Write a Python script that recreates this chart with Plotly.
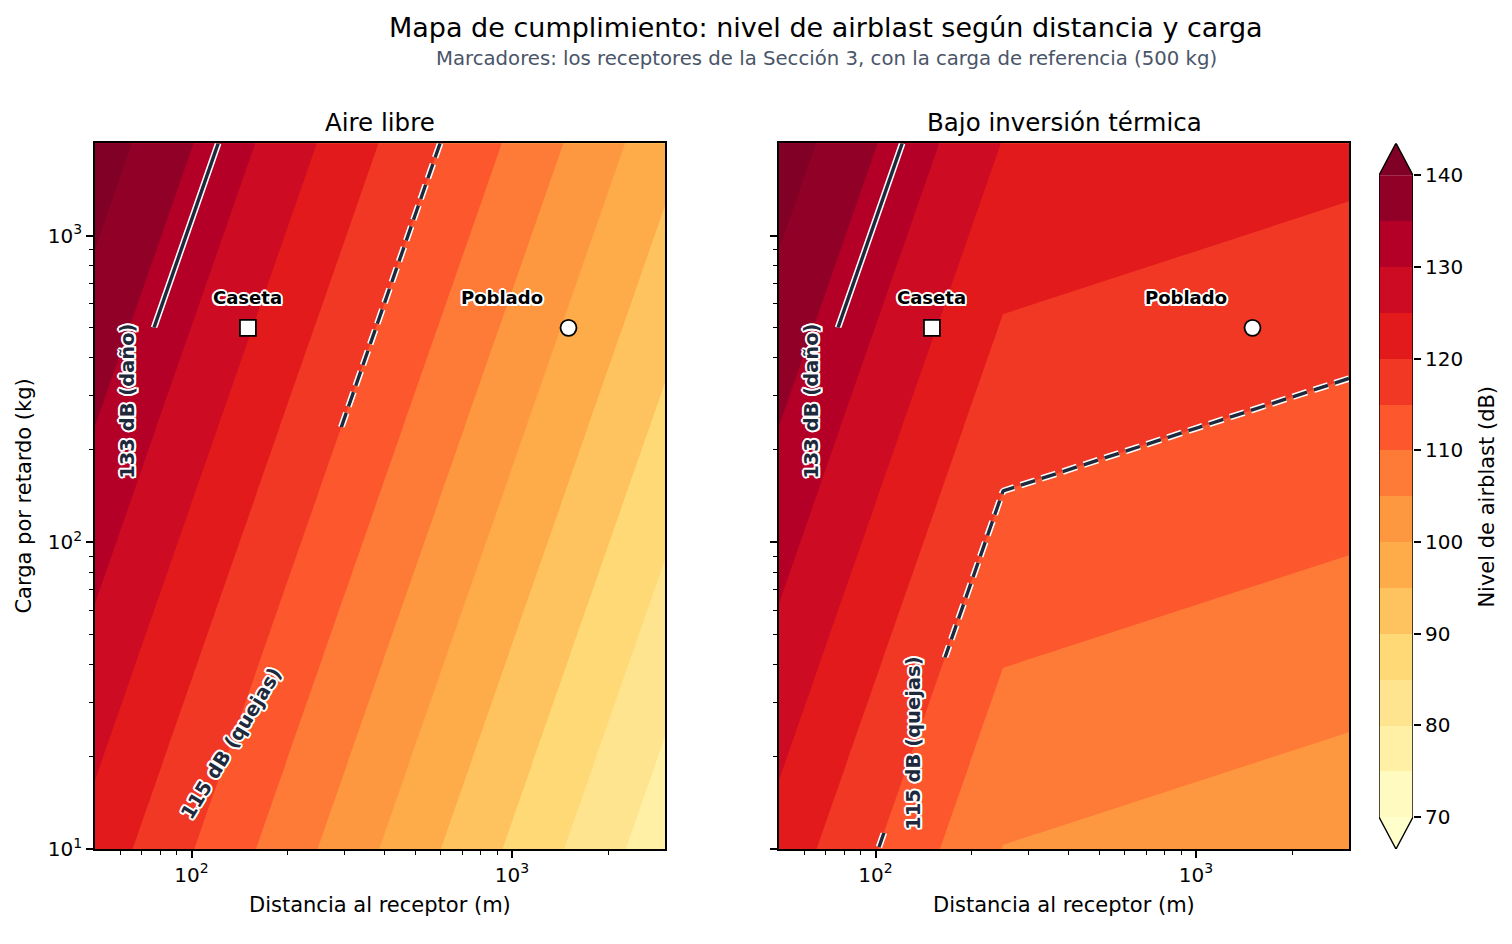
import numpy as np
import plotly.graph_objects as go

# ------------------------------------------------------------------ data
# grid (distance columns, charge rows), level in dB
distances_m = [50, 250, 3000]
charges_kg = [10, 11.3, 42, 237, 500, 2000]
level_free_db = [
    [123.05, 104.88, 76.82],
    [123.51, 105.34, 77.28],
    [128.46, 110.28, 82.22],
    [134.97, 116.80, 88.74],
    [137.78, 119.61, 91.55],
    [143.00, 124.82, 96.76],
]
level_inversion_db = [
    [123.05, 104.88, 101.70],
    [123.51, 105.34, 102.16],
    [128.46, 110.28, 107.10],
    [134.97, 116.80, 113.62],
    [137.78, 119.61, 116.43],
    [143.00, 124.82, 121.64],
]
receptor_names = ["Caseta", "Poblado"]
receptor_dist_m = [150, 1500]
receptor_charge_kg = [500, 500]
receptor_symbols = ["square", "circle"]

level_start, level_end, level_step = 70, 140, 5
colorbar_ticks = [70, 80, 90, 100, 110, 120, 130, 140]
# below-70, 14 bands 70..140, above-140 (YlOrRd)
band_colors = ["#ffffcc", "#fffabf", "#fff0a6", "#fee48e", "#fed976", "#fec35e",
               "#feab4a", "#fd9841", "#fd7b37", "#fc572d", "#f13824", "#e31a1c",
               "#cd0b22", "#b40026", "#910026", "#800026"]

threshold_damage = 133
threshold_complaint = 115
label_damage = "133 dB (daño)"
label_complaint = "115 dB (quejas)"

panel_titles = ["Aire libre", "Bajo inversión térmica"]
x_title = "Distancia al receptor (m)"
y_title = "Carga por retardo (kg)"
cbar_title = "Nivel de airblast (dB)"
main_title = "Mapa de cumplimiento: nivel de airblast según distancia y carga"
sub_title = "Marcadores: los receptores de la Sección 3, con la carga de referencia (500 kg)"

# ------------------------------------------------------------------ style
W, H = 1512, 944
FONT = "DejaVu Sans"
DARK = "#1e293b"
def px(x):
    return x / W
def py(y):
    return 1 - y / H

lx = np.log10(distances_m)
ly = np.log10(charges_kg)
z_free = np.array(level_free_db)
z_inv = np.array(level_inversion_db)

n_col = len(band_colors)
colorscale = [[k / (n_col - 1), c] for k, c in enumerate(band_colors)]

# visible row spans of each threshold line (gaps left for inline labels)
line_rows = {
    ("x", "y"): {threshold_damage: [(4, 6)], threshold_complaint: [(3, 6)]},
    ("x2", "y2"): {threshold_damage: [(4, 6)], threshold_complaint: [(0, 2), (2, 6)]},
}
OUTLINE = ("white 2px 0px 0px, white -2px 0px 0px, white 0px 2px 0px, white 0px -2px 0px, "
           "white 1.5px 1.5px 0px, white -1.5px -1.5px 0px, white 1.5px -1.5px 0px, white -1.5px 1.5px 0px")

fig = go.Figure()

panels = [("x", "y", z_free), ("x2", "y2", z_inv)]
for xa, ya, z in panels:
    fig.add_trace(go.Contour(
        x=lx, y=ly, z=z, autocontour=False,
        contours=dict(start=level_start, end=level_end, size=level_step,
                      coloring="fill", showlines=False),
        colorscale=colorscale, showscale=False, line=dict(width=0, smoothing=0),
        hoverinfo="skip", xaxis=xa, yaxis=ya))

for xa, ya, z in panels:
    for lvl, spans in line_rows[(xa, ya)].items():
        dash = "solid" if lvl == threshold_damage else "15px,7px"
        for r0, r1 in spans:
            for color, width in (("white", 6.5), (DARK, 3.4)):
                fig.add_trace(go.Contour(
                    x=lx, y=ly[r0:r1], z=z[r0:r1], autocontour=False,
                    contours=dict(start=lvl, end=lvl, size=1, coloring="none",
                                  showlines=True, showlabels=False),
                    line=dict(color=color, width=width, dash=dash, smoothing=0),
                    showscale=False, hoverinfo="skip", xaxis=xa, yaxis=ya))

for xa, ya, _ in panels:
    fig.add_trace(go.Scatter(
        x=np.log10(receptor_dist_m), y=np.log10(receptor_charge_kg), mode="markers",
        marker=dict(symbol=receptor_symbols, size=16, color="white",
                    line=dict(color="black", width=1.8)),
        hoverinfo="skip", xaxis=xa, yaxis=ya))

# ---- colorbar drawn on its own axis pair
levels = np.arange(level_start, level_end + level_step, level_step)
mids = (levels[:-1] + levels[1:]) / 2
ext = 3.5
fig.add_trace(go.Heatmap(
    x=[0], y=mids, z=[[m] for m in mids], colorscale=colorscale,
    zmin=level_start - level_step / 2, zmax=level_end + level_step / 2,
    showscale=False, hoverinfo="skip", xaxis="x3", yaxis="y3"))
fig.add_trace(go.Scatter(
    x=[-0.5, 0.5, 0, -0.5], y=[level_end, level_end, level_end + ext, level_end],
    fill="toself", fillcolor=band_colors[-1], mode="lines", line=dict(width=0),
    hoverinfo="skip", xaxis="x3", yaxis="y3"))
fig.add_trace(go.Scatter(
    x=[-0.5, 0.5, 0, -0.5], y=[level_start, level_start, level_start - ext, level_start],
    fill="toself", fillcolor=band_colors[0], mode="lines", line=dict(width=0),
    hoverinfo="skip", xaxis="x3", yaxis="y3"))
fig.add_trace(go.Scatter(
    x=[-0.5, -0.5, 0, 0.5, 0.5, 0, -0.5],
    y=[level_start, level_end, level_end + ext, level_end, level_start, level_start - ext, level_start],
    mode="lines", line=dict(color="black", width=1.4), hoverinfo="skip",
    xaxis="x3", yaxis="y3"))

# ------------------------------------------------------------------ axes
xmaj = [2, 3]
xmaj_txt = ["10<sup>2</sup>", "10<sup>3</sup>"]
ymaj = [1, 2, 3]
ymaj_txt = ["10<sup>1</sup>", "10<sup>2</sup>", "10<sup>3</sup>"]
xminor = [np.log10(m * 10 ** e) for e in (1, 2, 3) for m in range(2, 10)
          if 50 < m * 10 ** e < 3000]
yminor = [np.log10(m * 10 ** e) for e in (1, 2, 3) for m in range(2, 10)
          if 10 < m * 10 ** e < 2000]

common = dict(showgrid=False, zeroline=False, showline=True, linecolor="black",
              linewidth=1.6, mirror=True, ticks="outside", ticklen=7, tickwidth=1.6,
              tickcolor="black", tickfont=dict(family=FONT, size=20, color="black"))
xr = [np.log10(distances_m[0]), np.log10(distances_m[-1])]
yr = [np.log10(charges_kg[0]), np.log10(charges_kg[-1])]
ydom = [py(860), py(145)]
minor_x = dict(tickvals=xminor, ticks="outside", ticklen=4, tickwidth=1.2, tickcolor="black")
minor_y = dict(tickvals=yminor, ticks="outside", ticklen=4, tickwidth=1.2, tickcolor="black")

fig.update_layout(
    xaxis=dict(common, domain=[px(95), px(665)], range=xr, tickvals=xmaj, ticktext=xmaj_txt,
               minor=minor_x, anchor="y"),
    yaxis=dict(common, domain=ydom, range=yr, tickvals=ymaj, ticktext=ymaj_txt,
               minor=minor_y, anchor="x"),
    xaxis2=dict(common, domain=[px(779), px(1349)], range=xr, tickvals=xmaj, ticktext=xmaj_txt,
                minor=minor_x, anchor="y2"),
    yaxis2=dict(common, domain=ydom, range=yr, tickvals=ymaj, ticktext=ymaj_txt,
                showticklabels=False, minor=minor_y, anchor="x2"),
    xaxis3=dict(domain=[px(1379), px(1413)], range=[-0.5, 0.5], visible=False, anchor="y3"),
    yaxis3=dict(domain=ydom, range=[level_start - ext, level_end + ext], anchor="x3",
                side="right", tickvals=colorbar_ticks, ticks="outside", ticklen=7,
                tickwidth=1.6, tickcolor="black", showline=False, showgrid=False,
                zeroline=False, tickfont=dict(family=FONT, size=20, color="black")),
)

# ------------------------------------------------------------------ text
ann = []
def txt(text, x, y, size, color="black", angle=0, **kw):
    ann.append(dict(text=text, x=x, y=y, xref="paper", yref="paper", showarrow=False,
                    textangle=angle, xanchor="center", yanchor="middle",
                    font=dict(family=FONT, size=size, color=color), **kw))

txt(main_title, px(826), py(28), 27)
txt(sub_title, px(826), py(59), 19.7, color="#4a5568")
txt(panel_titles[0], px(380), py(124), 24.5)
txt(panel_titles[1], px(1064), py(124), 24.5)
txt(x_title, px(380), py(917), 21)
txt(x_title, px(1064), py(917), 21)
txt(y_title, px(24), py(503), 21, angle=-90)
txt(cbar_title, px(1487), py(503), 21, angle=-90)

label_shift_x = [0, -67]
for xa, ya in (("x", "y"), ("x2", "y2")):
    for name, d, w, sx in zip(receptor_names, receptor_dist_m, receptor_charge_kg, label_shift_x):
        ann.append(dict(text="<b>%s</b>" % name, x=np.log10(d), y=np.log10(w), xref=xa, yref=ya,
                        showarrow=False, xshift=sx, yshift=30, xanchor="center", yanchor="middle",
                        font=dict(family=FONT, size=18, color="black", shadow=OUTLINE)))

# contour labels: (axis pair, text, log-x, log-y, angle)
contour_labels = [
    ("x", "y", label_damage, 1.802, 2.458, -90),
    ("x2", "y2", label_damage, 1.802, 2.458, -90),
    ("x", "y", label_complaint, 2.125, 1.343, -58.5),
    ("x2", "y2", label_complaint, 2.120, 1.346, -90),
]
for xa, ya, t, x, y, a in contour_labels:
    ann.append(dict(text="<b>%s</b>" % t, x=x, y=y, xref=xa, yref=ya, showarrow=False,
                    textangle=a, xanchor="center", yanchor="middle",
                    font=dict(family=FONT, size=19.5, color=DARK, shadow=OUTLINE)))

fig.update_layout(
    annotations=ann, width=W, height=H, autosize=False,
    margin=dict(l=0, r=0, t=0, b=0),
    paper_bgcolor="white", plot_bgcolor="white", showlegend=False,
    font=dict(family=FONT, color="black"),
)

fig.write_html("out.html", config={"responsive": False},
               post_script="document.body.style.margin='0';")
